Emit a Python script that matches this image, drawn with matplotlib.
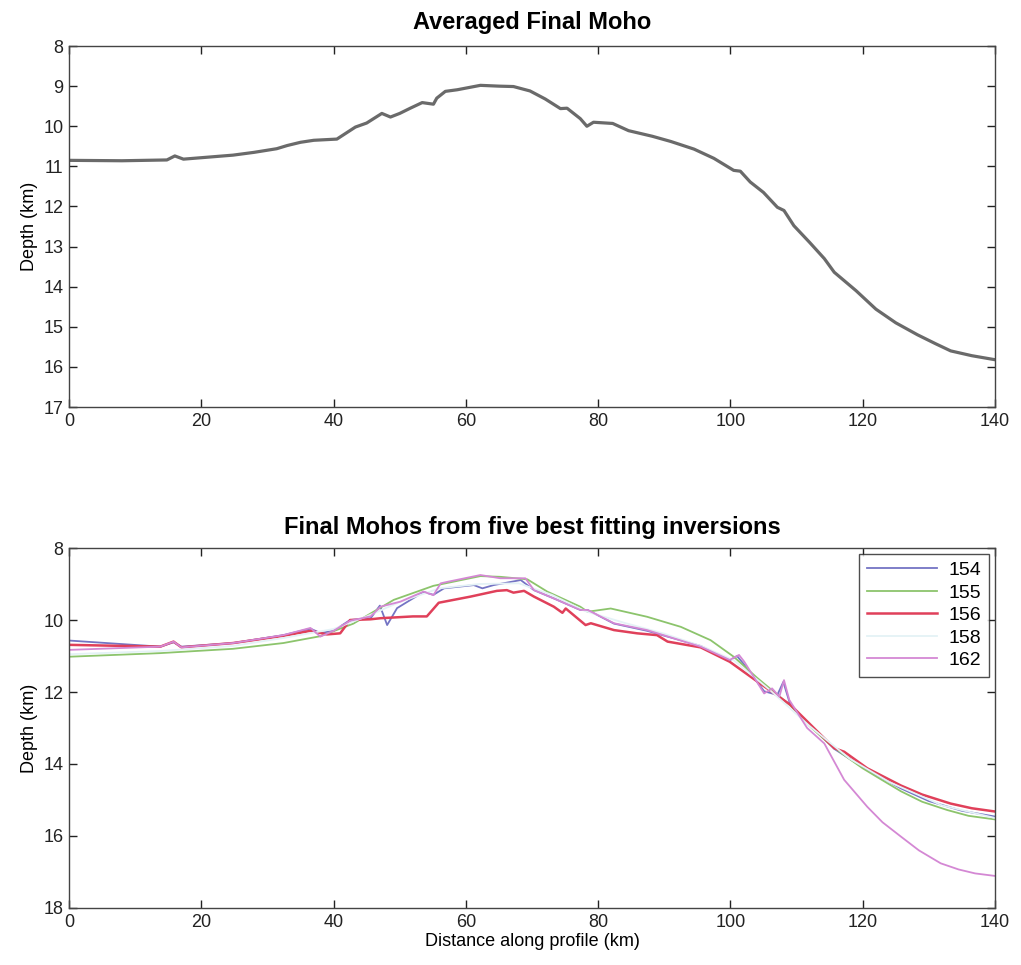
import matplotlib
matplotlib.use("Agg")
import matplotlib.pyplot as plt

plt.rcParams['font.family'] = ['Liberation Sans', 'DejaVu Sans']

# ---------------- data ----------------
avg_x = [0, 8, 14.8, 16, 17.3, 24.8, 28, 31.4, 33, 35, 37, 40.5, 43.3, 45, 47.3, 48.6, 50,
         51.6, 53.4, 55.1, 55.6, 56.9, 58.7, 62.2, 65, 67.2, 69.7, 72, 74.3, 75.3, 77.3, 78.3,
         79.3, 82.2, 84.6, 88.2, 91, 94.5, 97.5, 100.5, 101.5, 103, 105, 107.1, 108.1, 109.6,
         112, 114.2, 115.7, 119, 122, 125, 128.3, 131, 133.3, 136.5, 140]
avg_y = [10.85, 10.86, 10.84, 10.74, 10.82, 10.72, 10.65, 10.56, 10.48, 10.4, 10.35, 10.32,
         10.02, 9.92, 9.68, 9.77, 9.68, 9.55, 9.41, 9.45, 9.3, 9.13, 9.09, 8.98, 9.0, 9.01,
         9.12, 9.32, 9.56, 9.55, 9.81, 10.0, 9.9, 9.93, 10.11, 10.25, 10.38, 10.57, 10.8, 11.1,
         11.12, 11.39, 11.65, 12.02, 12.1, 12.48, 12.9, 13.3, 13.64, 14.1, 14.56, 14.9, 15.2,
         15.42, 15.6, 15.72, 15.82]

x154 = [0, 13.8, 15.8, 17, 24.8, 32.4, 36.5, 38, 40, 42.5, 45.6, 47, 48.1, 49.6, 53.6, 55.1,
        56.7, 61.2, 62.5, 64.2, 68.3, 70.3, 73.3, 77.3, 78.4, 82.4, 87.4, 95.5, 99.9, 101,
        102, 105.1, 107.1, 108, 109.1, 115.7, 120.7, 125.8, 130, 135, 140]
y154 = [10.57, 10.74, 10.62, 10.74, 10.64, 10.42, 10.24, 10.36, 10.3, 10.0, 9.95, 9.6, 10.14,
        9.67, 9.22, 9.3, 9.12, 9.03, 9.12, 9.03, 8.89, 9.17, 9.4, 9.72, 9.72, 10.1, 10.3, 10.72,
        11.12, 11.0, 11.22, 11.98, 12.08, 11.72, 12.38, 13.58, 14.17, 14.68, 15.03, 15.3, 15.46]

x155 = [0, 13.8, 24.8, 32.4, 38, 43, 49.1, 55.1, 62.2, 65.2, 69.3, 72.3, 77.3, 78.4, 81.9,
        87.4, 92.5, 97, 100.5, 104, 109.1, 112, 115, 117.7, 120, 122.7, 125.8, 129, 132.8,
        136, 140]
y155 = [11.02, 10.92, 10.8, 10.64, 10.45, 10.1, 9.44, 9.05, 8.78, 8.8, 8.87, 9.21, 9.63, 9.77,
        9.68, 9.91, 10.19, 10.56, 11.02, 11.6, 12.38, 12.95, 13.45, 13.82, 14.12, 14.42, 14.76,
        15.05, 15.28, 15.44, 15.54]

x156 = [0, 13.8, 15.8, 17, 24.8, 32.4, 36.5, 39, 41, 42.5, 45.6, 47.1, 52, 54.1, 55.9, 60.7,
        64.7, 66.2, 67.2, 68.8, 70.3, 73.3, 74.6, 75.1, 78.1, 78.9, 82.4, 85.9, 88.9, 90.5,
        95.5, 99.9, 104, 109.1, 115.7, 117.2, 120.7, 125.8, 129, 133.3, 136.5, 140]
y156 = [10.69, 10.74, 10.6, 10.76, 10.64, 10.44, 10.3, 10.4, 10.37, 10.0, 9.98, 9.95, 9.9, 9.9,
        9.52, 9.35, 9.19, 9.17, 9.24, 9.19, 9.35, 9.63, 9.8, 9.68, 10.14, 10.09, 10.28, 10.37,
        10.42, 10.6, 10.76, 11.16, 11.7, 12.36, 13.56, 13.66, 14.12, 14.6, 14.85, 15.1, 15.23,
        15.32]

x158 = [0, 13.8, 24.8, 32.4, 40, 45, 50, 56, 62, 68, 73, 78, 84, 90, 96, 100.5, 106, 112,
        118, 124, 132, 140]
y158 = [10.95, 10.86, 10.72, 10.5, 10.25, 9.9, 9.5, 9.12, 9.0, 8.98, 9.3, 9.75, 10.08, 10.38,
        10.75, 11.12, 11.95, 12.95, 13.85, 14.5, 15.15, 15.5]

x162 = [0, 13.8, 15.8, 17, 24.8, 32.4, 36.5, 38, 40, 42.5, 45.6, 47.1, 50.1, 53.6, 55.1,
        56.2, 57.2, 62.2, 65.2, 69, 70.3, 73.3, 77.3, 78.4, 82.4, 87.4, 95.5, 99.9, 101.3,
        102.1, 105.1, 106.3, 107.4, 108.1, 108.9, 111.6, 114.2, 117.2, 120.7, 123, 125.8,
        128.5, 131.8, 134.5, 137, 140]
y162 = [10.83, 10.74, 10.6, 10.76, 10.64, 10.42, 10.22, 10.46, 10.3, 10.02, 9.9, 9.63, 9.49,
        9.21, 9.31, 8.98, 8.94, 8.75, 8.84, 8.84, 9.17, 9.4, 9.72, 9.72, 10.09, 10.28, 10.74,
        11.11, 10.97, 11.16, 12.04, 11.9, 12.13, 11.67, 12.22, 13.0, 13.43, 14.44, 15.19,
        15.62, 16.02, 16.4, 16.76, 16.93, 17.04, 17.11]

series_labels = ['154', '155', '156', '158', '162']
series_colors = ['#7474c4', '#8cc46c', '#e0405a', '#e4f2f6', '#d488d4']

xticks = [0, 20, 40, 60, 80, 100, 120, 140]
top_yticks = [8, 9, 10, 11, 12, 13, 14, 15, 16, 17]
bot_yticks = [8, 10, 12, 14, 16, 18]

# ---------------- figure ----------------
fig = plt.figure(figsize=(10.21, 9.65), dpi=100)
ax1 = fig.add_axes([0.0676, 0.5782, 0.9069, 0.3741])
ax2 = fig.add_axes([0.0676, 0.0591, 0.9069, 0.3730])

def style(ax):
    ax.tick_params(direction='in', top=True, right=True, length=6, width=1,
                   labelsize=13, pad=4, colors='#222222')
    for s in ax.spines.values():
        s.set_color('#444444')
        s.set_linewidth(1.0)
    ax.set_xlim(0, 140)
    ax.set_xticks(xticks)

# Top panel
ax1.plot(avg_x, avg_y, color='#6a6a6a', lw=2.3, solid_joinstyle='round')
ax1.set_ylim(17, 8)
ax1.set_yticks(top_yticks)
style(ax1)
ax1.set_ylabel('Depth (km)', fontsize=13, labelpad=4)
ax1.set_title('Averaged Final Moho', fontsize=17, fontweight='bold', pad=12)

# Bottom panel
xs = [x154, x155, x156, x158, x162]
ys = [y154, y155, y156, y158, y162]
widths = [1.3, 1.3, 1.8, 1.3, 1.3]
for x, y, lab, c, w in zip(xs, ys, series_labels, series_colors, widths):
    ax2.plot(x, y, color=c, lw=w, label=lab)
ax2.set_ylim(18, 8)
ax2.set_yticks(bot_yticks)
style(ax2)
ax2.set_ylabel('Depth (km)', fontsize=13, labelpad=4)
ax2.set_xlabel('Distance along profile (km)', fontsize=13, labelpad=2)
ax2.set_title('Final Mohos from five best fitting inversions', fontsize=17,
              fontweight='bold', pad=10)
leg = ax2.legend(loc='upper right', fontsize=14, frameon=True, fancybox=False,
                 edgecolor='#222222', handlelength=3.6, borderpad=0.4,
                 labelspacing=0.25, borderaxespad=0.3, handletextpad=0.6)
leg.get_frame().set_linewidth(1.0)

fig.savefig('out.png', dpi=100)
